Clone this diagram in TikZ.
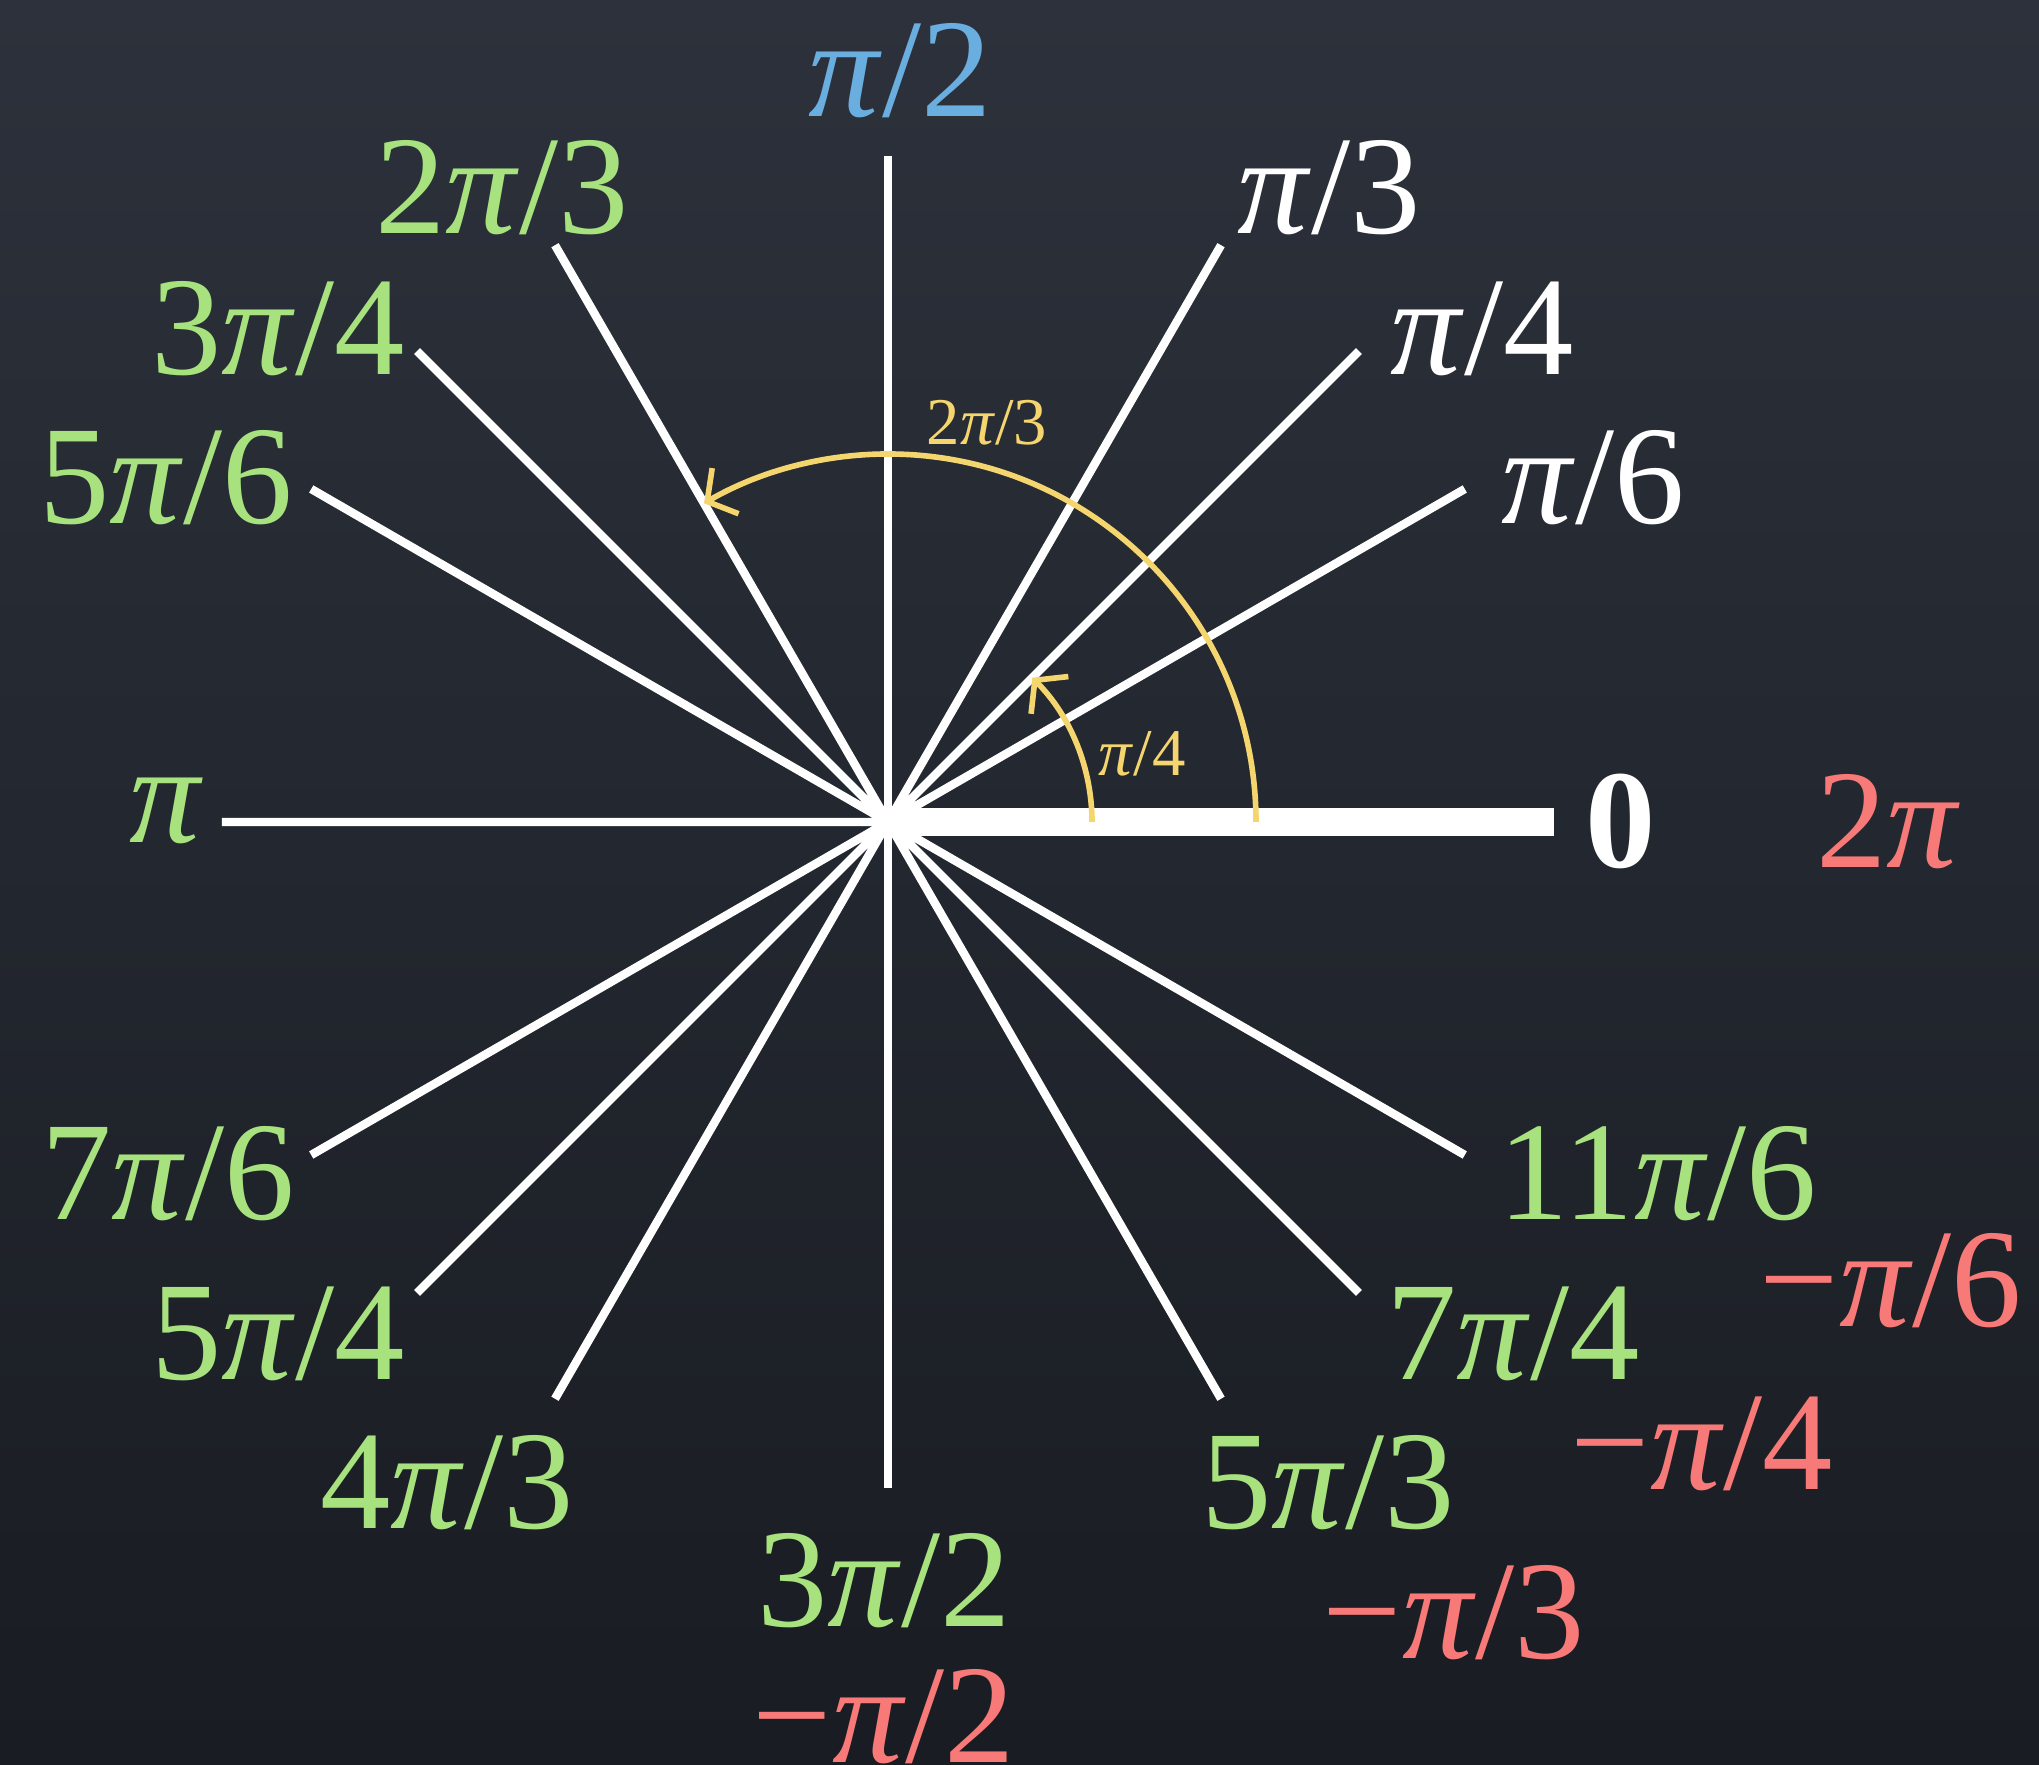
\documentclass[tikz,border=0pt]{standalone}
\usepackage{fontspec}
\setmainfont{Liberation Serif}
\usetikzlibrary{arrows.meta}

\definecolor{boardtop}{RGB}{44,49,59}
\definecolor{boardbot}{RGB}{25,28,34}
\definecolor{chalkgreen}{RGB}{168,226,127}
\definecolor{chalkblue}{RGB}{106,174,224}
\definecolor{chalkred}{RGB}{248,122,120}
\definecolor{chalkyellow}{RGB}{245,213,110}

\newcommand{\ppi}{\textit{π}}

\tikzset{
    ray/.style={white, line width=2.4pt},
    lbl/.style={font=\fontsize{40}{42}\selectfont, anchor=base, inner sep=0pt},
    anglbl/.style={font=\fontsize{19}{20}\selectfont, anchor=base, inner sep=0pt, chalkyellow},
    sweep/.style={chalkyellow, line width=1.6pt, -{Straight Barb[length=6pt,width=15pt]}}
}

\begin{document}
\begin{tikzpicture}[scale=1]
    \useasboundingbox (-8.88,-9.43) rectangle (11.51,8.22);
    \clip (-8.88,-9.43) rectangle (11.51,8.22);
    \shade[top color=boardtop, bottom color=boardbot] (-8.88,-9.43) rectangle (11.51,8.22);
    % centre and ends of the rays
    \coordinate (O) at (0,0);
    \coordinate (A0) at (6.66,0);
    \coordinate (A30) at ({6.66*cos(30)}, {6.66*sin(30)});
    \coordinate (A45) at ({6.66*cos(45)}, {6.66*sin(45)});
    \coordinate (A60) at ({6.66*cos(60)}, {6.66*sin(60)});
    \coordinate (A90) at (0,6.66);
    \coordinate (A120) at ({6.66*cos(120)}, {6.66*sin(120)});
    \coordinate (A135) at ({6.66*cos(135)}, {6.66*sin(135)});
    \coordinate (A150) at ({6.66*cos(150)}, {6.66*sin(150)});
    \coordinate (A180) at (-6.66,0);
    \coordinate (A210) at ({6.66*cos(210)}, {6.66*sin(210)});
    \coordinate (A225) at ({6.66*cos(225)}, {6.66*sin(225)});
    \coordinate (A240) at ({6.66*cos(240)}, {6.66*sin(240)});
    \coordinate (A270) at (0,-6.66);
    \coordinate (A300) at ({6.66*cos(300)}, {6.66*sin(300)});
    \coordinate (A315) at ({6.66*cos(315)}, {6.66*sin(315)});
    \coordinate (A330) at ({6.66*cos(330)}, {6.66*sin(330)});
    \draw[ray] (O) -- (A30) (O) -- (A45) (O) -- (A60)
        (O) -- (A120) (O) -- (A135) (O) -- (A150) (O) -- (A180)
        (O) -- (A210) (O) -- (A225) (O) -- (A240)
        (O) -- (A300) (O) -- (A315) (O) -- (A330);
    \draw[ray, line width=2pt] (O) -- (A90) (O) -- (A270);
    \draw[white, line width=8pt] (O) -- (A0);
    % the two turns
    \coordinate (S45) at (2.04,0);
    \coordinate (S120) at (3.68,0);
    \draw[sweep] (S45) arc (0:45:2.04);
    \draw[sweep] (S120) arc (0:120:3.68);
    \node (t45) at (2.54,0.46) [anglbl] {\ppi/4};
    \node (t120) at (0.99,3.77) [anglbl] {2\ppi/3};
    % labels
    \node (l90) at (0.12,7.05) [lbl, chalkblue] {\ppi/2};
    \node (l120) at (-3.86,5.88) [lbl, chalkgreen] {2\ppi/3};
    \node (l60) at (4.41,5.88) [lbl, white] {\ppi/3};
    \node (l135) at (-6.10,4.47) [lbl, chalkgreen] {3\ppi/4};
    \node (l45) at (5.94,4.47) [lbl, white] {\ppi/4};
    \node (l150) at (-7.22,2.98) [lbl, chalkgreen] {5\ppi/6};
    \node (l30) at (7.05,2.98) [lbl, white] {\ppi/6};
    \node (l180) at (-7.22,-0.21) [lbl, chalkgreen] {\ppi};
    \node (l0) at (7.33,-0.46) [lbl, white] {\bfseries 0};
    \node (l360) at (10.00,-0.46) [lbl, chalkred] {2\ppi};
    \node (l210) at (-7.20,-3.98) [lbl, chalkgreen] {7\ppi/6};
    \node (l330) at (7.70,-3.98) [lbl, chalkgreen] {11\ppi/6};
    \node (m30) at (10.03,-5.05) [lbl, chalkred] {−\ppi/6};
    \node (l225) at (-6.10,-5.57) [lbl, chalkgreen] {5\ppi/4};
    \node (l315) at (6.25,-5.57) [lbl, chalkgreen] {7\ppi/4};
    \node (m45) at (8.14,-6.67) [lbl, chalkred] {−\ppi/4};
    \node (l240) at (-4.41,-7.06) [lbl, chalkgreen] {4\ppi/3};
    \node (l300) at (4.40,-7.06) [lbl, chalkgreen] {5\ppi/3};
    \node (l270) at (-0.04,-8.04) [lbl, chalkgreen] {3\ppi/2};
    \node (m60) at (5.66,-8.36) [lbl, chalkred] {−\ppi/3};
    \node (m90) at (-0.04,-9.40) [lbl, chalkred] {−\ppi/2};
\end{tikzpicture}
\end{document}
